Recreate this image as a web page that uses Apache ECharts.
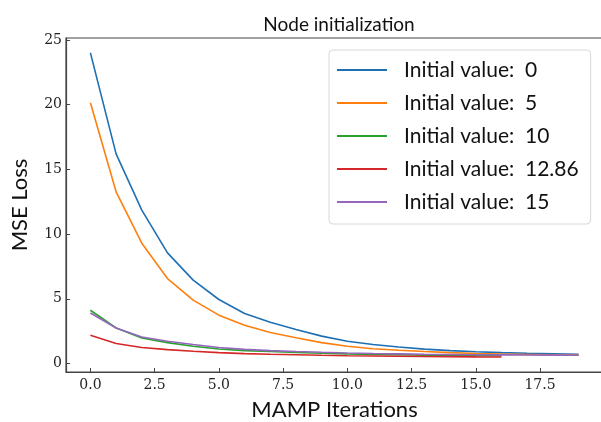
<!DOCTYPE html>
<html>
<head>
<meta charset="utf-8">
<script src="https://cdn.jsdelivr.net/npm/echarts@6/dist/echarts.min.js"></script>
<style>
  html, body { margin: 0; padding: 0; background: #fff; }
  #chart { width: 601px; height: 422px; }
</style>
</head>
<body>
<div id="chart"></div>
<script>
// values, one per iteration
const lossInit0 = [24.0, 16.2, 11.85, 8.55, 6.45, 4.95, 3.87, 3.2, 2.63, 2.12, 1.72, 1.47, 1.28, 1.12, 1.0, 0.92, 0.85, 0.8, 0.76, 0.72];
const lossInit5 = [20.15, 13.27, 9.3, 6.57, 4.9, 3.74, 2.96, 2.4, 2.0, 1.62, 1.34, 1.15, 1.03, 0.93, 0.85, 0.78, 0.73, 0.7, 0.67, 0.65];
const lossInit10 = [4.12, 2.75, 1.98, 1.62, 1.34, 1.13, 1.0, 0.93, 0.86, 0.8, 0.75, 0.71, 0.68, 0.65, 0.63, 0.61, 0.6];
const lossInit1286 = [2.19, 1.55, 1.24, 1.08, 0.95, 0.85, 0.77, 0.72, 0.68, 0.64, 0.61, 0.59, 0.57, 0.55, 0.54, 0.52, 0.51];
const lossInit15 = [3.91, 2.75, 2.06, 1.72, 1.47, 1.24, 1.1, 1.0, 0.93, 0.87, 0.82, 0.78, 0.75, 0.72, 0.7, 0.68, 0.67, 0.66, 0.65, 0.64];

const seriesNames = ['Initial value:  0', 'Initial value:  5', 'Initial value:  10', 'Initial value:  12.86', 'Initial value:  15'];
const seriesColors = ['#1f6fb4', '#ff7f0e', '#2ca02c', '#d62728', '#9467bd'];
const xTicks = [0, 2.5, 5, 7.5, 10, 12.5, 15, 17.5];
const yTicks = [0, 5, 10, 15, 20, 25];

const allLoss = [lossInit0, lossInit5, lossInit10, lossInit1286, lossInit15];

const serif = 'DejaVu Serif';
const sans = 'Lato';

const chart = echarts.init(document.getElementById('chart'));

chart.setOption({
    animation: false,
    backgroundColor: '#fff',
    title: {
        text: 'Node initialization',
        left: 334,
        textAlign: 'center',
        top: 10,
        textStyle: { fontFamily: sans, fontWeight: 'normal', fontSize: 19, color: '#111' }
    },
    legend: {
        orient: 'vertical',
        left: 329,
        top: 50,
        padding: [8, 12, 10, 8],
        itemGap: 9,
        itemWidth: 50,
        itemHeight: 2,
        icon: 'rect',
        backgroundColor: '#fff',
        borderColor: '#d8d8d8',
        borderWidth: 1,
        borderRadius: 4,
        data: seriesNames,
        textStyle: {
            fontFamily: sans,
            fontSize: 21,
            lineHeight: 24,
            color: '#111',
            padding: [0, 0, 0, 12]
        }
    },
    grid: {
        left: 66,
        top: 38,
        right: -2,
        bottom: 50,
        outerBoundsMode: 'none',
        show: true,
        borderColor: '#444',
        borderWidth: 1.2
    },
    xAxis: {
        type: 'value',
        min: -0.95,
        max: 19.95,
        name: 'MAMP Iterations',
        nameLocation: 'middle',
        nameGap: 27,
        nameTextStyle: { fontFamily: sans, fontSize: 22, color: '#111' },
        splitLine: { show: false },
        axisLine: { onZero: false, lineStyle: { color: '#444', width: 1.2 } },
        axisTick: { inside: true, length: 4, customValues: xTicks, lineStyle: { color: '#444' } },
        axisLabel: {
            customValues: xTicks,
            fontFamily: serif,
            fontSize: 14,
            color: '#222',
            margin: 6,
            formatter: v => v.toFixed(1)
        }
    },
    yAxis: {
        type: 'value',
        min: -0.65,
        max: 25.15,
        name: 'MSE Loss',
        nameLocation: 'middle',
        nameGap: 35,
        nameTextStyle: { fontFamily: sans, fontSize: 22, color: '#111' },
        splitLine: { show: false },
        axisLine: { onZero: false, lineStyle: { color: '#444', width: 1.2 } },
        axisTick: { inside: true, length: 4, customValues: yTicks, lineStyle: { color: '#444' } },
        axisLabel: {
            customValues: yTicks,
            fontFamily: serif,
            fontSize: 14,
            color: '#222',
            margin: 4
        }
    },
    series: allLoss.map((loss, i) => ({
        name: seriesNames[i],
        type: 'line',
        symbol: 'none',
        color: seriesColors[i],
        lineStyle: { width: 1.6 },
        data: loss.map((v, k) => [k, v])
    }))
});
</script>
</body>
</html>
